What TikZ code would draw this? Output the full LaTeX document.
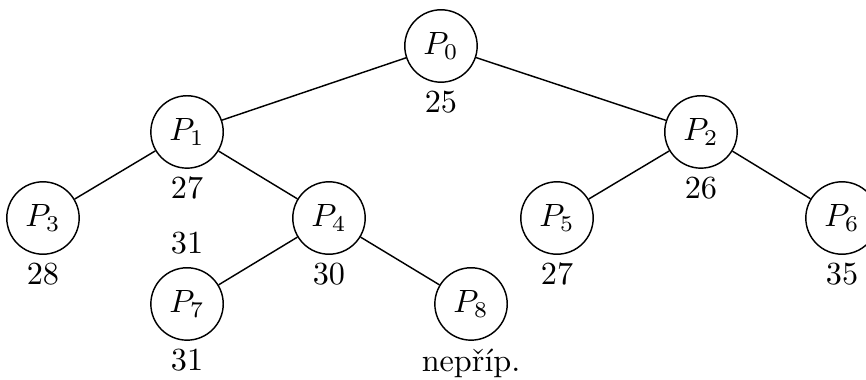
\documentclass[tikz,border=0pt]{standalone}
\usepackage{fontspec}
\usepackage{tikz}

\begin{document}
\begin{tikzpicture}[line width=0.45pt,
  proc/.style={circle,draw,minimum size=0.79cm,inner sep=0pt},
  cost/.style={below=-0.04cm}]
  \useasboundingbox (0,0) rectangle (9.45,-4.14);
  % vrcholy stromu
  \node[proc] (p0) at (4.812,-0.502) {\(P_0\)};
  \node[proc] (p1) at (2.041,-1.440) {\(P_1\)};
  \node[proc] (p2) at (7.649,-1.440) {\(P_2\)};
  \node[proc] (p3) at (0.469,-2.379) {\(P_3\)};
  \node[proc] (p4) at (3.590,-2.379) {\(P_4\)};
  \node[proc] (p5) at (6.078,-2.379) {\(P_5\)};
  \node[proc] (p6) at (9.188,-2.379) {\(P_6\)};
  \node[proc] (p7) at (2.041,-3.317) {\(P_7\)};
  \node[proc] (p8) at (5.140,-3.317) {\(P_8\)};
  % hrany
  \draw (p0) -- (p1);
  \draw (p0) -- (p2);
  \draw (p1) -- (p3);
  \draw (p1) -- (p4);
  \draw (p2) -- (p5);
  \draw (p2) -- (p6);
  \draw (p4) -- (p7);
  \draw (p4) -- (p8);
  % ceny
  \node[cost] (c0) at (p0.south) {25};
  \node[cost] (c1) at (p1.south) {27};
  \node[cost] (c2) at (p2.south) {26};
  \node[cost] (c3) at (p3.south) {28};
  \node[cost] (c4) at (p4.south) {30};
  \node[cost] (c5) at (p5.south) {27};
  \node[cost] (c6) at (p6.south) {35};
  \node[cost] (c7) at (p7.south) {31};
  \node[cost] (c8) at (p8.south) {nepříp.};
  \node[above=0.01cm] (b7) at (p7.north) {31};
\end{tikzpicture}
\end{document}
